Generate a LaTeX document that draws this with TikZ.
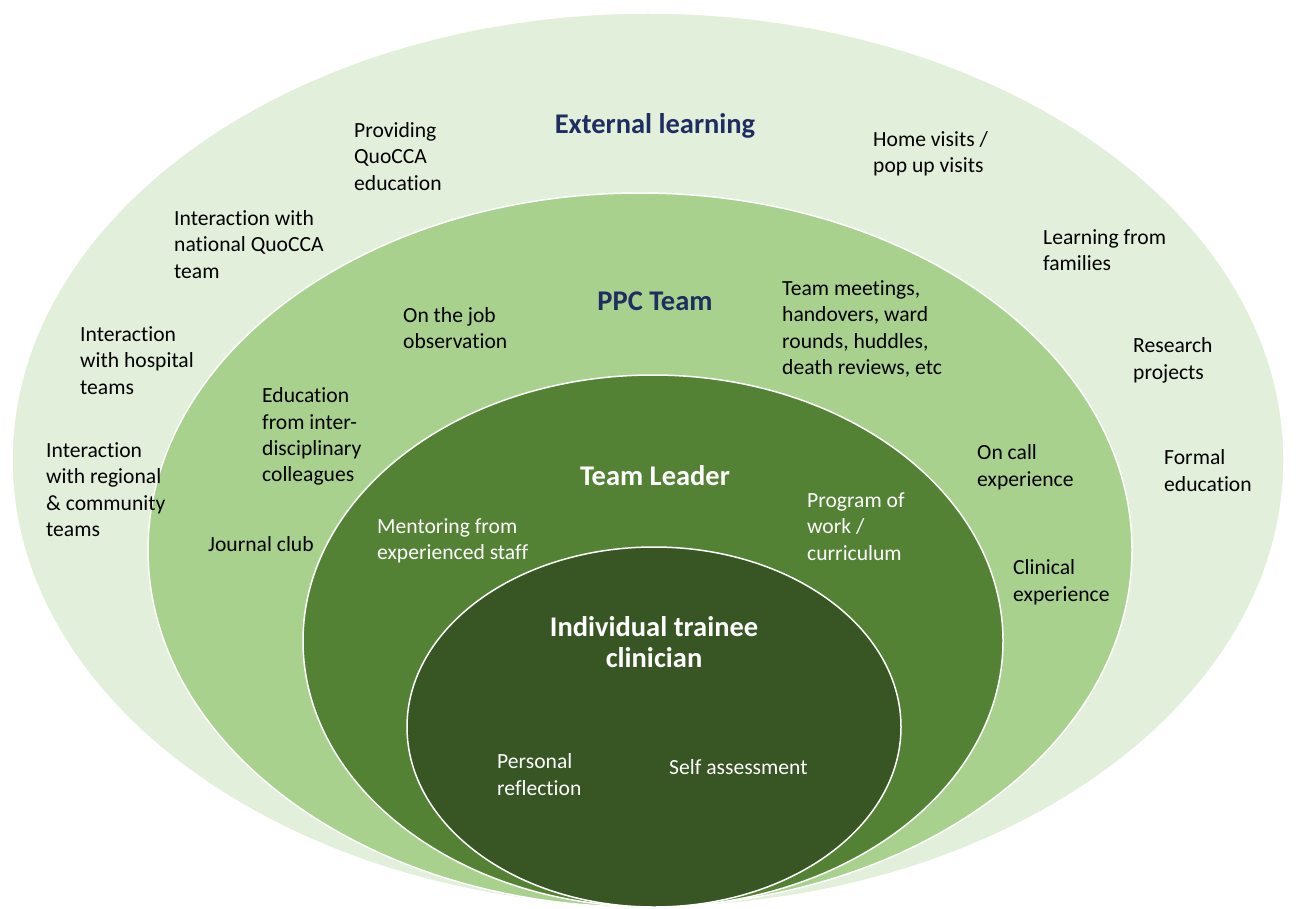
\documentclass[tikz,border=0pt]{standalone}
\usepackage{fontspec}
\setmainfont{Carlito}[Ligatures={NoCommon}]
\usetikzlibrary{positioning}
\definecolor{extfill}{HTML}{E2EFDA}
\definecolor{ppcfill}{HTML}{A9D18E}
\definecolor{leadfill}{HTML}{548235}
\definecolor{selffill}{HTML}{375623}
\definecolor{titlenavy}{RGB}{31,45,96}

\begin{document}
\begin{tikzpicture}[x=1pt, y=-1pt,
    ring/.style={draw=white, line width=1.5pt},
    item/.style={anchor=north west, inner sep=0pt, align=left, font=\fontsize{21.6}{26.3}\selectfont},
    title/.style={inner sep=0pt, align=center, font=\bfseries\fontsize{28.5}{31}\selectfont}]
\useasboundingbox (0,0) rectangle (1297,909);

% Rings
\draw [ring, fill=extfill] (648,460) ellipse [x radius=636, y radius=447];
\draw [ring, fill=ppcfill] (640,550) ellipse [x radius=492, y radius=357];
\draw [ring, fill=leadfill] (653,641) ellipse [x radius=350, y radius=266];
\draw [ring, fill=selffill] (654,727) ellipse [x radius=247, y radius=180];

% Titles
\node [title, text=titlenavy] (external) at (655,126) {External learning};
\node [title, text=titlenavy] (ppc) at (655,301.5) {PPC Team};
\node [title, text=white] (leader) at (655,475.5) {Team Leader};
\node [title, text=white] (trainee) at (654,642.5) {Individual trainee\\clinician};

% External learning
\node [item] (providing) at (354,122.5) {Providing\\QuoCCA\\education};
\node [item] (national) at (174,210.5) {Interaction with\\national QuoCCA\\team};
\node [item] (hospital) at (80,326.5) {Interaction\\with hospital\\teams};
\node [item] (regional) at (46,442.5) {Interaction\\with regional\\\& community\\teams};
\node [item] (home) at (873,131.5) {Home visits /\\pop up visits};
\node [item] (families) at (1043,229.5) {Learning from\\families};
\node [item] (research) at (1133,337.5) {Research\\projects};
\node [item] (formal) at (1164,449.5) {Formal\\education};

% PPC team
\node [item] (observation) at (403,307.5) {On the job\\observation};
\node [item] (meetings) at (782,280.5) {Team meetings,\\handovers, ward\\rounds, huddles,\\death reviews, etc};
\node [item] (interdisc) at (262,387.5) {Education\\from inter-\\disciplinary\\colleagues};
\node [item] (journal) at (208,536.5) {Journal club};
\node [item] (oncall) at (977,444.5) {On call\\experience};
\node [item] (clinical) at (1013,559.5) {Clinical\\experience};

% Team leader
\node [item, text=white] (mentoring) at (377,518.5) {Mentoring from\\experienced staff};
\node [item, text=white] (program) at (807,492.5) {Program of\\work /\\curriculum};

% Individual trainee
\node [item, text=white] (reflection) at (497,753.5) {Personal\\reflection};
\node [item, text=white] (selfassess) at (669,759.5) {Self assessment};

\end{tikzpicture}
\end{document}
